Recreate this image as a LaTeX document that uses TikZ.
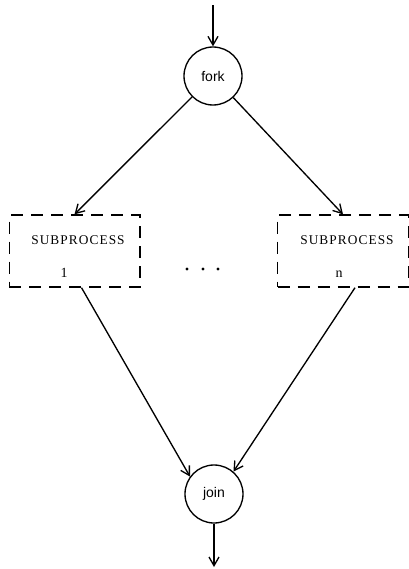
\documentclass[tikz,border=0pt]{standalone}
\usepackage{fontspec}
\setmainfont{Liberation Serif}
\newfontfamily\labfont{Liberation Sans}
\newfontfamily\boxfont[LetterSpace=8]{Liberation Serif}
\usetikzlibrary{arrows.meta}
\begin{document}
\begin{tikzpicture}[x=0.75pt,y=-0.75pt,
  proc/.style={circle,draw,line width=1pt,minimum size=43.5pt,inner sep=0pt,
    font=\labfont\fontsize{10.5}{12}\selectfont},
  dbox/.style={draw,dash pattern=on 9pt off 6pt,line width=1pt,
    minimum width=98pt,minimum height=54pt,inner sep=0pt},
  btxt/.style={inner sep=0pt,font=\boxfont\fontsize{10}{12}\selectfont},
  ntxt/.style={inner sep=0pt,anchor=base,font=\fontsize{10.5}{12}\selectfont},
  pdot/.style={circle,fill,inner sep=0pt,minimum size=2.4pt},
  conn/.style={line width=1pt,-{Straight Barb[length=6.5pt,width=7.5pt]}}
]
\useasboundingbox (0,0) rectangle (409,569);
\node[proc] (fork) at (213,76) {fork};
\node[proc] (join) at (214,494) {join};
\node[dbox] (lbox) at (74.5,251) {};
\node[dbox] (rbox) at (343,251) {};
\node[btxt] (lt) at (78,240.5) {SUBPROCESS};
\node[ntxt] (ln) at (64,277) {1};
\node[btxt] (rt) at (347,240.5) {SUBPROCESS};
\node[ntxt] (rn) at (339,277) {n};
\node[pdot] (d1) at (187,269) {};
\node[pdot] (d2) at (203,269) {};
\node[pdot] (d3) at (218,269) {};
\coordinate (top) at (213,5);
\coordinate (bot) at (214,567);
\draw[conn] (top) -- (fork);
\draw[conn] (fork) -- (lbox.north);
\draw[conn] (fork) -- (rbox.north);
\draw[conn] ([xshift=5.25pt]lbox.south) -- (join.144);
\draw[conn] ([xshift=9pt]rbox.south) -- (join.49);
\draw[conn] (join) -- (bot);
\end{tikzpicture}
\end{document}
